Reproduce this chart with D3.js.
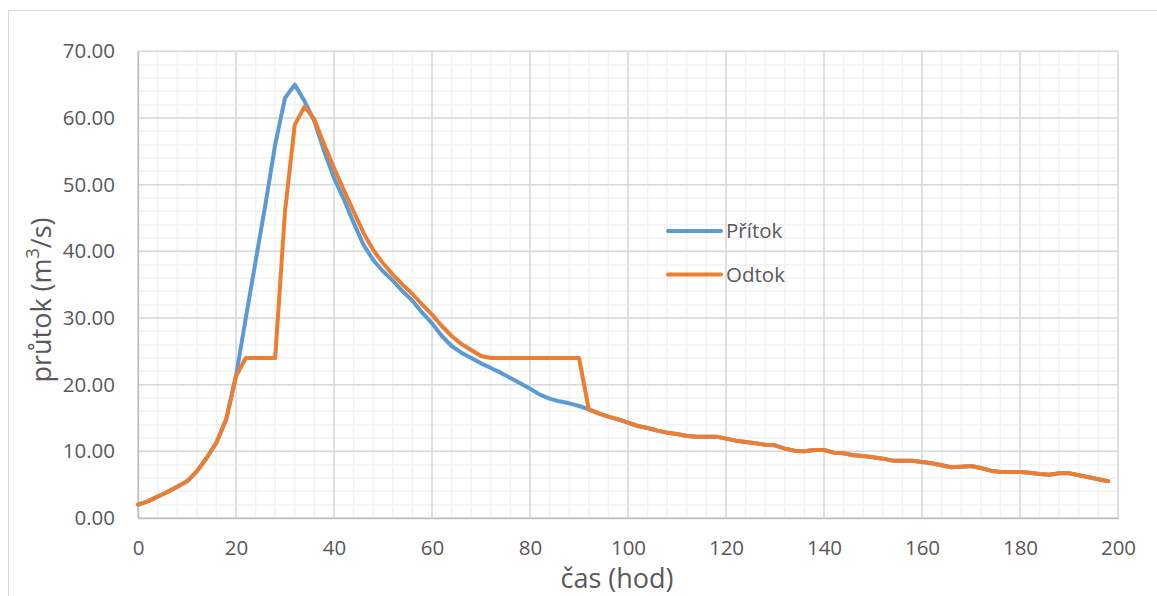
<!DOCTYPE html>
<html>
<head>
<meta charset="utf-8">
<script src="https://cdn.jsdelivr.net/npm/d3@7"></script>
<style>
  body { margin: 0; background: #fff; }
  svg { display: block; font-family: 'Open Sans', sans-serif; }
</style>
</head>
<body>
<div id="chart"></div>
<script>
// hours, every 2 h from 0 to 198
const hours = d3.range(0, 200, 2)

const inflow = [
  2.0, 2.5, 3.2, 3.9, 4.7, 5.5, 7.0, 9.0, 11.3, 14.8,
  21.3, 30.0, 38.5, 47.0, 56.0, 63.0, 65.0, 62.5, 59.5, 55.0,
  51.0, 47.8, 44.3, 41.0, 38.7, 37.0, 35.6, 34.0, 32.6, 30.8,
  29.2, 27.3, 25.8, 24.8, 24.0, 23.2, 22.5, 21.8, 21.0, 20.2,
  19.4, 18.5, 17.9, 17.5, 17.2, 16.8, 16.3, 15.7, 15.2, 14.8,
  14.3, 13.8, 13.5, 13.1, 12.8, 12.6, 12.3, 12.2, 12.2, 12.2,
  11.9, 11.6, 11.4, 11.2, 11.0, 10.9, 10.4, 10.1, 10.0, 10.2,
  10.2, 9.8, 9.7, 9.4, 9.3, 9.1, 8.9, 8.6, 8.6, 8.6,
  8.4, 8.2, 7.9, 7.6, 7.7, 7.8, 7.5, 7.1, 6.9, 6.9,
  6.9, 6.8, 6.6, 6.5, 6.7, 6.7, 6.4, 6.1, 5.8, 5.5
]

const outflow = [
  2.0, 2.5, 3.2, 3.9, 4.7, 5.5, 7.0, 9.0, 11.3, 14.8,
  21.3, 24.0, 24.0, 24.0, 24.0, 46.0, 59.0, 61.7, 59.8, 56.0,
  52.5, 49.2, 46.0, 42.8, 40.2, 38.2, 36.5, 35.0, 33.6, 32.0,
  30.5, 28.8, 27.3, 26.1, 25.2, 24.3, 24.0, 24.0, 24.0, 24.0,
  24.0, 24.0, 24.0, 24.0, 24.0, 24.0, 16.3, 15.7, 15.2, 14.8,
  14.3, 13.8, 13.5, 13.1, 12.8, 12.6, 12.3, 12.2, 12.2, 12.2,
  11.9, 11.6, 11.4, 11.2, 11.0, 10.9, 10.4, 10.1, 10.0, 10.2,
  10.2, 9.8, 9.7, 9.4, 9.3, 9.1, 8.9, 8.6, 8.6, 8.6,
  8.4, 8.2, 7.9, 7.6, 7.7, 7.8, 7.5, 7.1, 6.9, 6.9,
  6.9, 6.8, 6.6, 6.5, 6.7, 6.7, 6.4, 6.1, 5.8, 5.5
]

const seriesNames = ['Přítok', 'Odtok']
const seriesColors = ['#5B9BD5', '#ED7D31']

const xTicks = d3.range(0, 201, 20)
const yTicks = d3.range(0, 71, 10)

const width = 1157
const height = 596
const margin = { top: 51.3, right: 39, bottom: 78, left: 138 }

const svg = d3.select('#chart')
  .append('svg')
  .attr('width', width)
  .attr('height', height)

// chart frame
svg.append('rect')
  .attr('x', 8.5)
  .attr('y', 10.5)
  .attr('width', width)
  .attr('height', height)
  .attr('fill', 'none')
  .attr('stroke', '#D9D9D9')
  .attr('stroke-width', 1)

const x = d3.scaleLinear()
  .domain([0, 200])
  .range([margin.left, width - margin.right])

const y = d3.scaleLinear()
  .domain([0, 70])
  .range([height - margin.bottom, margin.top])

const grid = svg.append('g')

// minor grid
grid.selectAll('.xminor')
  .data(d3.range(0, 201, 4))
  .enter().append('line')
  .attr('x1', d => x(d)).attr('x2', d => x(d))
  .attr('y1', y(0)).attr('y2', y(70))
  .attr('stroke', '#F2F2F2').attr('stroke-width', 1.5)

grid.selectAll('.yminor')
  .data(d3.range(0, 71, 2))
  .enter().append('line')
  .attr('x1', x(0)).attr('x2', x(200))
  .attr('y1', d => y(d)).attr('y2', d => y(d))
  .attr('stroke', '#F2F2F2').attr('stroke-width', 1.5)

// major grid
grid.selectAll('.xmajor')
  .data(xTicks)
  .enter().append('line')
  .attr('x1', d => x(d)).attr('x2', d => x(d))
  .attr('y1', y(0)).attr('y2', y(70))
  .attr('stroke', '#D9D9D9').attr('stroke-width', 1.5)

grid.selectAll('.ymajor')
  .data(yTicks)
  .enter().append('line')
  .attr('x1', x(0)).attr('x2', x(200))
  .attr('y1', d => y(d)).attr('y2', d => y(d))
  .attr('stroke', '#D9D9D9').attr('stroke-width', 1.5)

// axes
const xAxis = svg.append('g')
  .attr('transform', `translate(0, ${y(0)})`)
  .call(d3.axisBottom(x).tickValues(xTicks).tickSize(0).tickPadding(22))
xAxis.select('.domain').attr('stroke', '#BFBFBF').attr('stroke-width', 1.5)

const yAxis = svg.append('g')
  .attr('transform', `translate(${x(0)}, 0)`)
  .call(d3.axisLeft(y).tickValues(yTicks).tickSize(0).tickPadding(23).tickFormat(d3.format('.2f')))
yAxis.select('.domain').attr('stroke', '#BFBFBF').attr('stroke-width', 1.5)

svg.selectAll('.tick text')
  .attr('fill', '#595959')
  .attr('font-size', '20.5px')
  .attr('font-family', "'Open Sans', sans-serif")

// axis titles
svg.append('text')
  .attr('x', 617)
  .attr('y', 588)
  .attr('text-anchor', 'middle')
  .attr('font-size', '27px')
  .attr('fill', '#595959')
  .text('čas (hod)')

const yTitle = svg.append('text')
  .attr('transform', 'translate(51, 300) rotate(-90)')
  .attr('text-anchor', 'middle')
  .attr('font-size', '27px')
  .attr('fill', '#595959')
yTitle.append('tspan').text('průtok (m')
yTitle.append('tspan').attr('baseline-shift', 'super').attr('font-size', '18px').text('3')
yTitle.append('tspan').text('/s)')

// lines
const line = d3.line()
  .x((d, i) => x(hours[i]))
  .y(d => y(d))

;[inflow, outflow].forEach((values, i) => {
  svg.append('path')
    .datum(values)
    .attr('fill', 'none')
    .attr('stroke', seriesColors[i])
    .attr('stroke-width', 4)
    .attr('stroke-linejoin', 'round')
    .attr('stroke-linecap', 'round')
    .attr('d', line)
})

// legend
const legend = svg.append('g')
  .attr('transform', 'translate(668, 231)')

seriesNames.forEach((name, i) => {
  const g = legend.append('g').attr('transform', `translate(0, ${i * 43.5})`)
  g.append('line')
    .attr('x1', 0).attr('x2', 53)
    .attr('stroke', seriesColors[i])
    .attr('stroke-width', 4)
    .attr('stroke-linecap', 'round')
  g.append('text')
    .attr('x', 58)
    .attr('dy', '0.35em')
    .attr('font-size', '20.5px')
    .attr('fill', '#595959')
    .text(name)
})
</script>
</body>
</html>
